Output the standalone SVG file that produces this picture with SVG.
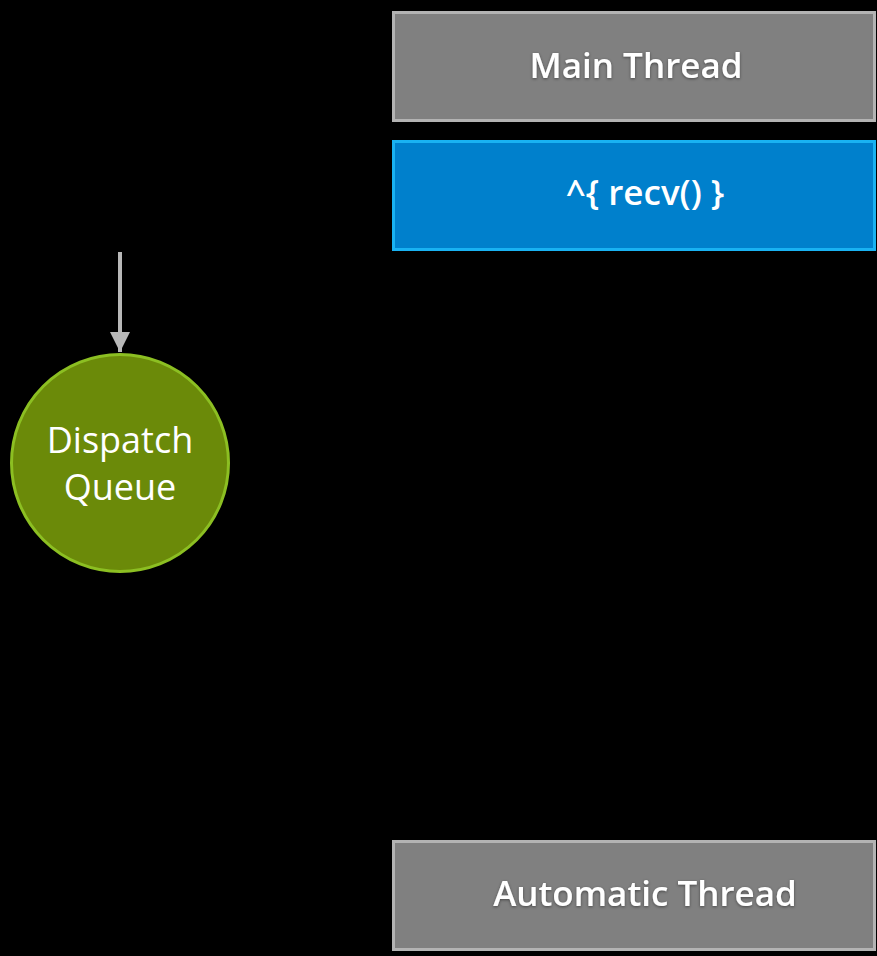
<svg xmlns="http://www.w3.org/2000/svg" width="877" height="956" viewBox="0 0 877 956">
  <defs>
    <style>
      .thread rect { fill: #808080; stroke: #b3b3b3; stroke-width: 3; }
      .block rect { fill: #0080cc; stroke: #19b2f2; stroke-width: 3; }
      .label { font-family: "Open Sans", "Liberation Sans", sans-serif; font-weight: 600; font-size: 35px; fill: #ffffff; text-anchor: middle; }
      .shadow { filter: url(#txtShadow); }
      .queue circle { fill: #6b8a09; stroke: #8cbf22; stroke-width: 3; }
      .queue text { font-family: "Open Sans", "Liberation Sans", sans-serif; font-size: 36px; fill: #ffffff; text-anchor: middle; }
      .conn line { stroke: #b8b8b8; stroke-width: 4; }
    </style>
    <marker id="arrowHead" markerUnits="userSpaceOnUse" markerWidth="22" markerHeight="22" refX="20" refY="10" orient="auto">
      <path d="M0,0 L20,10 L0,20 Z" fill="#b8b8b8"/>
    </marker>
    <filter id="txtShadow" x="-10%" y="-30%" width="120%" height="160%">
      <feDropShadow dx="0" dy="1" stdDeviation="1.5" flood-color="#000000" flood-opacity="0.45"/>
    </filter>
  </defs>
  <rect width="877" height="956" fill="#000000"/>

  <g id="main-thread" class="thread">
    <rect x="393.5" y="12.5" width="481" height="108"/>
    <text class="label shadow" x="636" y="78">Main Thread</text>
  </g>

  <g id="recv-block" class="block">
    <rect x="393.5" y="141.5" width="481" height="108"/>
    <text class="label" x="645" y="205">^{ recv() }</text>
  </g>

  <g id="automatic-thread" class="thread">
    <rect x="393.5" y="841.5" width="481" height="108"/>
    <text class="label shadow" x="645" y="906">Automatic Thread</text>
  </g>

  <g id="dispatch-queue" class="queue">
    <circle cx="120" cy="463" r="108.5"/>
    <text x="120" y="453">Dispatch</text>
    <text x="120" y="500">Queue</text>
  </g>

  <g id="connectors" class="conn">
    <line x1="120" y1="252" x2="120" y2="352" marker-end="url(#arrowHead)"/>
  </g>
</svg>
